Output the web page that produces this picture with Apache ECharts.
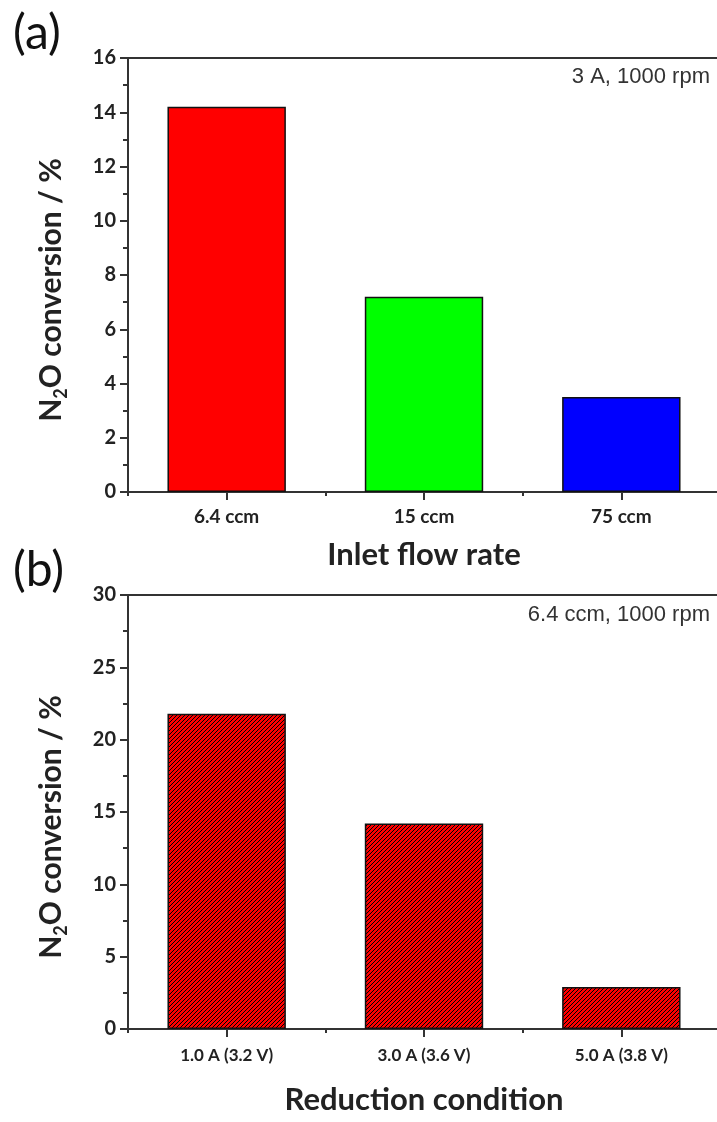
<!DOCTYPE html>
<html>
<head>
<meta charset="utf-8">
<style>
  html, body { margin: 0; padding: 0; background: #fff; }
  #chart { width: 717px; height: 1122px; }
</style>
<script src="https://cdn.jsdelivr.net/npm/echarts@6/dist/echarts.min.js"></script>
</head>
<body>
<div id="chart"></div>
<script>
// Panel (a): conversion vs. inlet flow rate at 3 A, 1000 rpm
const flowCategories = ['6.4 ccm', '15 ccm', '75 ccm'];
const flowConversion = [14.2, 7.2, 3.5];
const flowColors = ['#ff0000', '#00ff00', '#0000ff'];

// Panel (b): conversion vs. reduction condition at 6.4 ccm, 1000 rpm
const reductionCategories = ['1.0 A (3.2 V)', '3.0 A (3.6 V)', '5.0 A (3.8 V)'];
const reductionConversion = [21.8, 14.2, 2.9];

const yTicksA = { min: 0, max: 16, interval: 2 };
const yTicksB = { min: 0, max: 30, interval: 5 };

const FONT = 'Lato, "Open Sans", sans-serif';
const AXIS_COLOR = '#333';

// red fill with dark diagonal hatching
function hatchPattern() {
  const c = document.createElement('canvas');
  c.width = 4; c.height = 4;
  const g = c.getContext('2d');
  g.fillStyle = '#ff0000';
  g.fillRect(0, 0, 4, 4);
  g.strokeStyle = '#000';
  g.lineWidth = 1;
  g.beginPath();
  g.moveTo(-1, 5); g.lineTo(5, -1);
  g.moveTo(-1, 1); g.lineTo(1, -1);
  g.moveTo(3, 5); g.lineTo(5, 3);
  g.stroke();
  return { image: c, repeat: 'repeat' };
}

const chart = echarts.init(document.getElementById('chart'), null, { renderer: 'canvas' });

const yName = 'N{sub|2}O conversion / %';
const yNameStyle = {
  fontFamily: FONT, fontSize: 30, fontWeight: 'bold', color: '#222',
  padding: [0, 30, 0, 0],
  rich: { sub: { fontFamily: FONT, fontSize: 18, fontWeight: 'bold', color: '#222', padding: [20, 0, 0, 0] } }
};

function valueAxis(gridIndex, ticks) {
  return {
    type: 'value', gridIndex,
    min: ticks.min, max: ticks.max, interval: ticks.interval,
    name: yName, nameLocation: 'middle', nameGap: 58, nameRotate: 90,
    nameTextStyle: yNameStyle,
    axisLine: { show: true, lineStyle: { color: AXIS_COLOR, width: 2 } },
    axisTick: { show: true, inside: false, length: 8, lineStyle: { color: AXIS_COLOR, width: 2 } },
    minorTick: { show: true, splitNumber: 2, length: 5, lineStyle: { color: AXIS_COLOR, width: 2 } },
    splitLine: { show: false },
    axisLabel: { fontFamily: FONT, fontSize: 20, fontWeight: 'bold', color: '#222', margin: 12 }
  };
}

function categoryAxis(gridIndex, cats, name, labelSize, labelMargin, nameGap) {
  return {
    type: 'category', gridIndex, data: cats, position: 'bottom',
    name, nameLocation: 'middle', nameGap,
    nameTextStyle: { fontFamily: FONT, fontSize: 31, fontWeight: 'bold', color: '#222' },
    axisLine: { show: true, onZero: false, lineStyle: { color: AXIS_COLOR, width: 2 } },
    axisTick: { show: true, alignWithLabel: true, length: 8, lineStyle: { color: AXIS_COLOR, width: 2 } },
    axisLabel: { fontFamily: FONT, fontSize: labelSize, fontWeight: 'bold', color: '#222', margin: labelMargin },
    splitLine: { show: false }
  };
}

// second category axis on the same grid: short ticks at category boundaries
function boundaryAxis(gridIndex, cats) {
  return {
    type: 'category', gridIndex, data: cats, position: 'bottom',
    axisLine: { show: false },
    axisTick: { show: true, alignWithLabel: false, length: 4, lineStyle: { color: AXIS_COLOR, width: 2 } },
    axisLabel: { show: false },
    splitLine: { show: false }
  };
}

const option = {
  animation: false,
  backgroundColor: '#fff',
  grid: [
    { left: 128, top: 58, width: 592, height: 434, show: true, borderColor: AXIS_COLOR, borderWidth: 2, outerBoundsMode: 'none' },
    { left: 128, top: 595, width: 592, height: 434, show: true, borderColor: AXIS_COLOR, borderWidth: 2, outerBoundsMode: 'none' }
  ],
  xAxis: [
    categoryAxis(0, flowCategories, 'Inlet flow rate', 19, 15, 47),
    boundaryAxis(0, flowCategories),
    categoryAxis(1, reductionCategories, 'Reduction condition', 17, 18, 55),
    boundaryAxis(1, reductionCategories)
  ],
  yAxis: [valueAxis(0, yTicksA), valueAxis(1, yTicksB)],
  graphic: [
    { type: 'text', left: 13, top: 10, style: { text: '(a)', fontFamily: FONT, fontSize: 48, fill: '#111' } },
    { type: 'text', left: 13, top: 547, style: { text: '(b)', fontFamily: FONT, fontSize: 48, fill: '#111' } },
    { type: 'text', right: 7, top: 66, style: { text: '3 A, 1000 rpm', fontFamily: '"Liberation Sans", Arial, sans-serif', fontSize: 22, fill: '#333' } },
    { type: 'text', right: 7, top: 604, style: { text: '6.4 ccm, 1000 rpm', fontFamily: '"Liberation Sans", Arial, sans-serif', fontSize: 22, fill: '#333' } }
  ],
  series: [
    {
      type: 'bar', xAxisIndex: 0, yAxisIndex: 0, barWidth: '60%',
      data: flowConversion.map((v, i) => ({
        value: v,
        itemStyle: { color: flowColors[i], borderColor: '#111', borderWidth: 1.5 }
      }))
    },
    {
      type: 'bar', xAxisIndex: 2, yAxisIndex: 1, barWidth: '60%',
      data: reductionConversion,
      itemStyle: { color: hatchPattern(), borderColor: '#111', borderWidth: 1.5 }
    }
  ]
};

chart.setOption(option);
</script>
</body>
</html>
